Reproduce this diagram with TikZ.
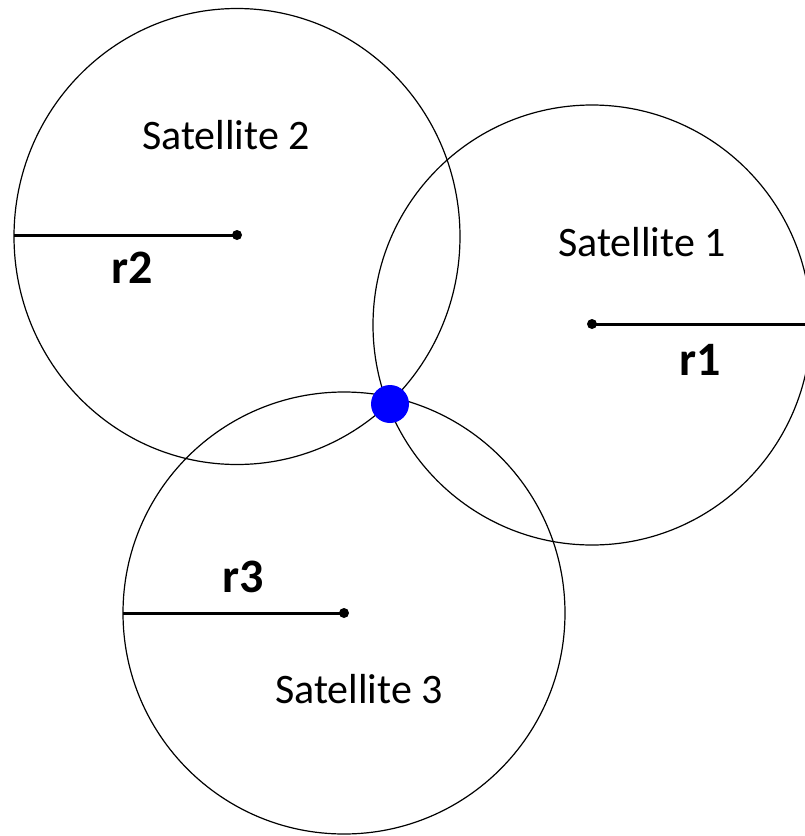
\documentclass[tikz,border=0pt]{standalone}
\usepackage{fontspec}
\usetikzlibrary{shapes.geometric}
\setmainfont{Carlito}
\begin{document}
\begin{tikzpicture}[x=1pt,y=-1pt,
  orbit/.style={ellipse,draw=black,line width=1.2pt,inner sep=0pt,outer sep=0pt},
  centre/.style={circle,fill=black,inner sep=0pt,minimum size=10pt},
  radius/.style={line width=3pt},
  satlabel/.style={anchor=base,font=\fontsize{42}{50}\selectfont},
  rlabel/.style={anchor=base,font=\fontsize{48}{56}\selectfont\bfseries},
  fix/.style={circle,fill=blue,inner sep=0pt,minimum size=38pt}]
\useasboundingbox (0,0) rectangle (805,836);
% orbits
\node[orbit,minimum width=446pt,minimum height=456pt] (c2) at (237,236.5) {};
\node[orbit,minimum width=438pt,minimum height=440pt] (c1) at (592,325) {};
\node[orbit,minimum width=442pt,minimum height=442pt] (c3) at (344,613) {};
% centres
\node[centre] (s2) at (237,235) {};
\node[centre] (s1) at (592,324) {};
\node[centre] (s3) at (344,613) {};
% radii
\draw[radius] (s2.center) -- (s2.center -| c2.west);
\draw[radius] (s1.center) -- (s1.center -| c1.east);
\draw[radius] (s3.center) -- (s3.center -| c3.west);
% labels
\node[satlabel] (l2) at (226,149) {Satellite 2};
\node[satlabel] (l1) at (642,256) {Satellite 1};
\node[satlabel] (l3) at (359,703) {Satellite 3};
\node[rlabel] (r2) at (132,283) {r2};
\node[rlabel] (r1) at (700,375) {r1};
\node[rlabel] (r3) at (243,592) {r3};
% position fix
\node[fix] (p) at (390,404) {};
\end{tikzpicture}
\end{document}
